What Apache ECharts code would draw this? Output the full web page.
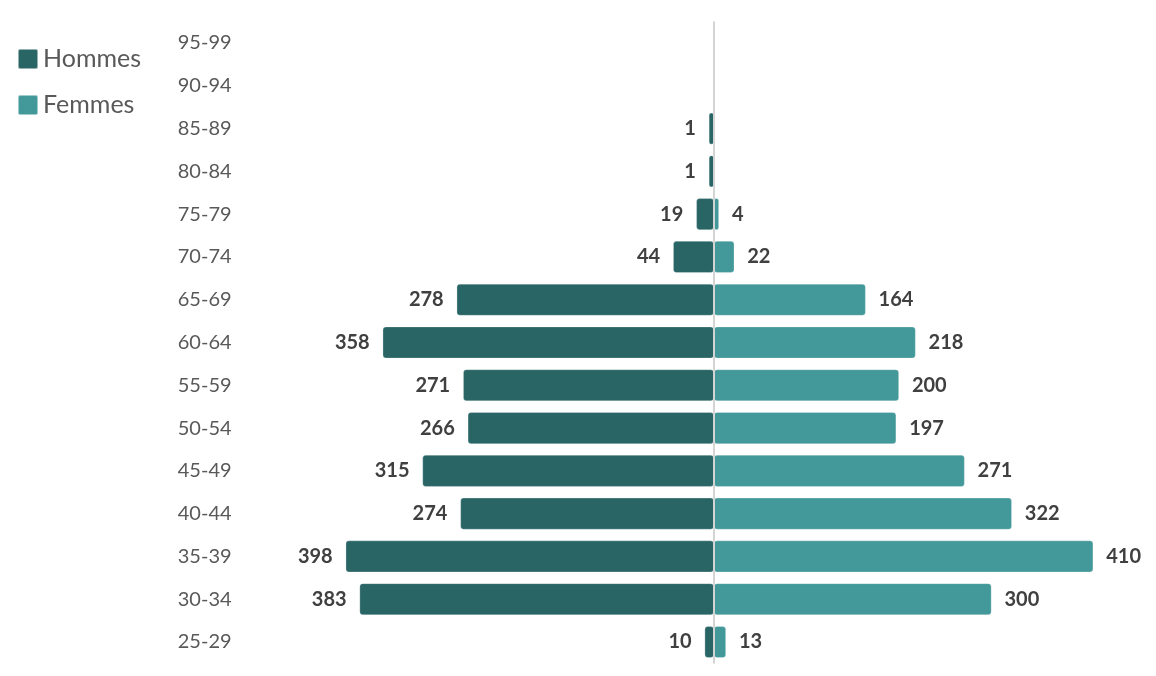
<!DOCTYPE html>
<html>
<head>
<meta charset="utf-8">
<script src="https://cdn.jsdelivr.net/npm/echarts@6/dist/echarts.min.js"></script>
<style>
html,body{margin:0;padding:0;background:#fff;}
#chart{width:1156px;height:676px;}
</style>
</head>
<body>
<div id="chart"></div>
<script>
// Age groups, bottom to top
const ageGroups = ['25-29','30-34','35-39','40-44','45-49','50-54','55-59','60-64','65-69','70-74','75-79','80-84','85-89','90-94','95-99'];
const hommes = [10, 383, 398, 274, 315, 266, 271, 358, 278, 44, 19, 1, 1, 0, 0];
const femmes = [13, 300, 410, 322, 271, 197, 200, 218, 164, 22, 4, 0, 0, 0, 0];

const chart = echarts.init(document.getElementById('chart'), null, {renderer: 'canvas'});
const FONT = 'Lato, "Open Sans", sans-serif';

const labelStyle = {
  show: true,
  color: '#404040',
  fontFamily: FONT,
  fontWeight: 'bold',
  fontSize: 20,
  distance: 13,
  formatter: p => Math.abs(p.value)
};

chart.setOption({
  animation: false,
  backgroundColor: '#ffffff',
  legend: {
    orient: 'vertical',
    left: 12,
    top: 41.5,
    itemWidth: 20,
    itemHeight: 20,
    itemGap: 21,
    icon: 'path://M2,0H18Q20,0,20,2V18Q20,20,18,20H2Q0,20,0,18V2Q0,0,2,0Z',
    textStyle: {color: '#595959', fontSize: 25, fontFamily: FONT},
    data: ['Hommes', 'Femmes']
  },
  grid: {left: 297.6, right: 7.3, top: 21.6, bottom: 12.6, containLabel: false},
  xAxis: {
    type: 'value',
    min: -450,
    max: 470,
    show: false,
    splitLine: {show: false}
  },
  yAxis: {
    type: 'category',
    data: ageGroups,
    axisLine: {show: false},
    axisTick: {show: false},
    axisLabel: {color: '#595959', fontSize: 20, fontFamily: FONT, margin: 66}
  },
  series: [
    {
      name: 'Hommes',
      type: 'bar',
      stack: 'pop',
      barCategoryGap: '26%',
      barMinHeight: 5,
      itemStyle: {color: '#2a6566', borderRadius: 3, borderColor: 'rgba(255,255,255,0.5)', borderWidth: 0.5},
      label: Object.assign({position: 'left'}, labelStyle),
      data: hommes.map(v => v ? -v : null),
      markLine: {
        silent: true,
        symbol: 'none',
        label: {show: false},
        lineStyle: {color: '#d4d4d4', width: 2, type: 'solid'},
        data: [{xAxis: 0}]
      }
    },
    {
      name: 'Femmes',
      type: 'bar',
      stack: 'pop',
      barCategoryGap: '26%',
      barMinHeight: 5,
      itemStyle: {color: '#439899', borderRadius: 3, borderColor: 'rgba(255,255,255,0.5)', borderWidth: 0.5},
      label: Object.assign({position: 'right'}, labelStyle),
      data: femmes.map(v => v ? v : null)
    }
  ]
});
</script>
</body>
</html>
